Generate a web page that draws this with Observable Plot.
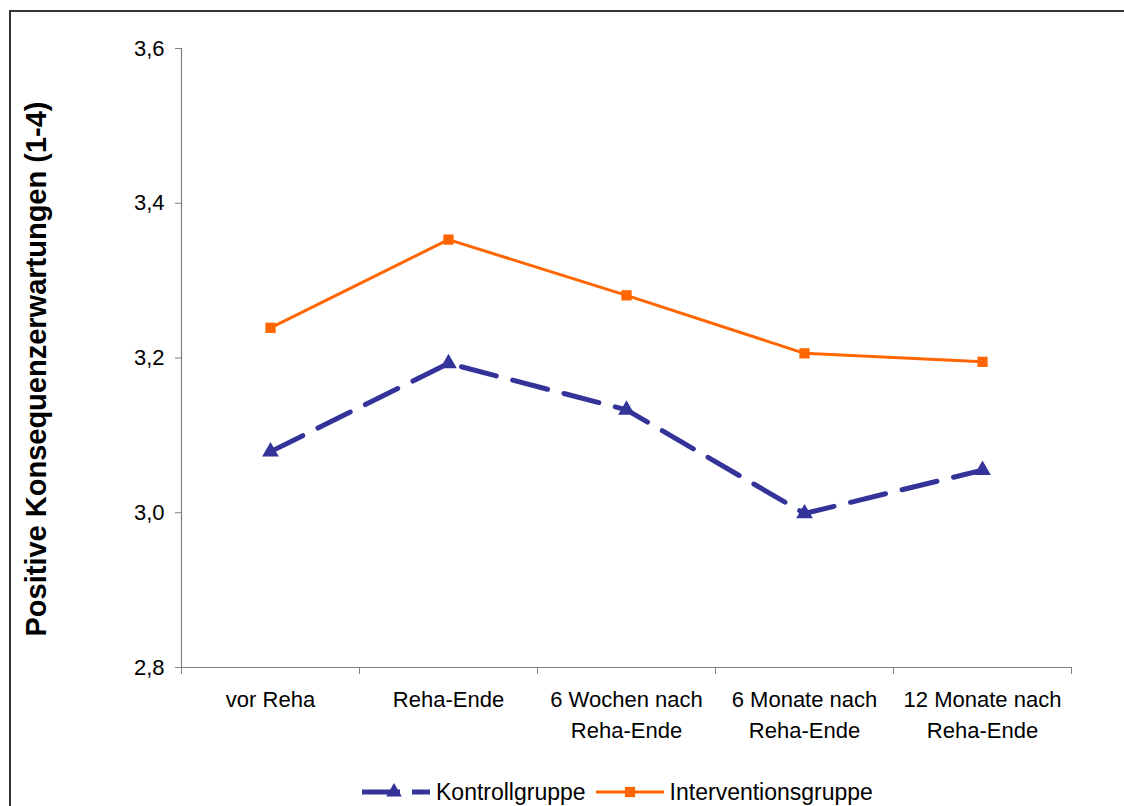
<!DOCTYPE html>
<html>
<head>
<meta charset="utf-8">
<script src="https://cdn.jsdelivr.net/npm/d3@7"></script>
<script src="https://cdn.jsdelivr.net/npm/@observablehq/plot@0.6"></script>
<style>
  html, body { margin: 0; padding: 0; background: #fff; }
  body { width: 1124px; height: 806px; position: relative; overflow: hidden;
         font-family: "Liberation Sans", Arial, sans-serif; }
  #frame { position: absolute; left: 9px; top: 10px; width: 1300px; height: 1000px;
           border: 2px solid #333; box-sizing: border-box; }
  #chart { position: absolute; left: 0; top: 0; }
  #ytitle { position: absolute; left: 36px; top: 369px; transform: translate(-50%, -50%) rotate(-90deg);
            white-space: nowrap; font-weight: bold; font-size: 29px; color: #000; }
  #legend { position: absolute; left: 360px; top: 778px; height: 28px; display: flex; align-items: center;
            font-size: 23px; color: #000; white-space: nowrap; }
  #legend .item { display: flex; align-items: center; margin-right: 8px; }
  #legend svg { display: block; margin-right: 4px; }
</style>
</head>
<body>
<div id="frame"></div>
<div id="chart"></div>
<div id="ytitle">Positive Konsequenzerwartungen (1-4)</div>
<div id="legend"></div>
<script>
// ---- data ----
const categories = ["vor Reha", "Reha-Ende", "6 Wochen nach\nReha-Ende", "6 Monate nach\nReha-Ende", "12 Monate nach\nReha-Ende"];
const kontrollgruppe = [3.079, 3.193, 3.133, 2.999, 3.055];
const interventionsgruppe = [3.239, 3.353, 3.281, 3.206, 3.195];
const seriesNames = ["Kontrollgruppe", "Interventionsgruppe"];
const yTicks = [2.8, 3.0, 3.2, 3.4, 3.6];
const yDomain = [2.8, 3.6];

// ---- styles ----
const blue = "#333399";
const orange = "#FF6600";
const axisColor = "#808080";

const rowsK = categories.map((c, i) => ({i, value: kontrollgruppe[i], series: seriesNames[0]}));
const rowsI = categories.map((c, i) => ({i, value: interventionsgruppe[i], series: seriesNames[1]}));
const xDomain = [-0.5, categories.length - 0.5];
const boundaries = d3.range(categories.length + 1).map(k => k - 0.5);
const centers = d3.range(categories.length);

const chart = Plot.plot({
  width: 1124,
  height: 770,
  marginLeft: 181,
  marginRight: 53,
  marginTop: 48,
  marginBottom: 103,
  style: {fontFamily: "'Liberation Sans', Arial, sans-serif", fontSize: "22px", color: "#000", background: "transparent", overflow: "visible"},
  x: {type: "linear", domain: xDomain},
  y: {domain: yDomain},
  marks: [
    Plot.ruleY([yDomain[0]], {stroke: axisColor, strokeWidth: 1.2}),
    Plot.ruleX([xDomain[0]], {stroke: axisColor, strokeWidth: 1.2}),
    Plot.axisY({ticks: yTicks, tickSize: 6, tickPadding: 11, stroke: axisColor,
                tickFormat: d => d.toFixed(1).replace(".", ","), label: null}),
    Plot.axisX({ticks: boundaries, tickSize: 7, stroke: axisColor, tickFormat: () => "", label: null}),
    Plot.axisX({ticks: centers, tickSize: 0, tickPadding: 17, lineHeight: 1.42,
                tickFormat: i => categories[i], label: null}),
    Plot.line(rowsK, {x: "i", y: "value", stroke: blue, strokeWidth: 5, strokeDasharray: "36,17"}),
    Plot.line(rowsI, {x: "i", y: "value", stroke: orange, strokeWidth: 3}),
    Plot.dot(rowsK, {x: "i", y: "value", symbol: "triangle", r: 6.2, fill: blue, stroke: "none"}),
    Plot.dot(rowsI, {x: "i", y: "value", symbol: "square", r: 5.8, fill: orange, stroke: "none"})
  ]
});
document.getElementById("chart").appendChild(chart);

// ---- legend ----
const legend = document.getElementById("legend");
const ns = "http://www.w3.org/2000/svg";
function legendItem(name, color, dashed, symbol) {
  const item = document.createElement("div");
  item.className = "item";
  const svg = document.createElementNS(ns, "svg");
  svg.setAttribute("width", 72); svg.setAttribute("height", 20);
  const line = document.createElementNS(ns, "line");
  line.setAttribute("x1", 2); line.setAttribute("x2", 70);
  line.setAttribute("y1", 10); line.setAttribute("y2", 10);
  line.setAttribute("stroke", color);
  line.setAttribute("stroke-width", dashed ? 5 : 3);
  if (dashed) line.setAttribute("stroke-dasharray", "38,12");
  svg.appendChild(line);
  const p = document.createElementNS(ns, "path");
  p.setAttribute("d", d3.symbol(symbol === "triangle" ? d3.symbolTriangle : d3.symbolSquare, Math.PI * 5.8 * 5.8)());
  p.setAttribute("transform", `translate(${symbol === "triangle" ? 34 : 36},10)`);
  p.setAttribute("fill", color);
  svg.appendChild(p);
  item.appendChild(svg);
  const t = document.createElement("span");
  t.textContent = name;
  item.appendChild(t);
  legend.appendChild(item);
}
legendItem(seriesNames[0], blue, true, "triangle");
legendItem(seriesNames[1], orange, false, "square");
</script>
</body>
</html>
